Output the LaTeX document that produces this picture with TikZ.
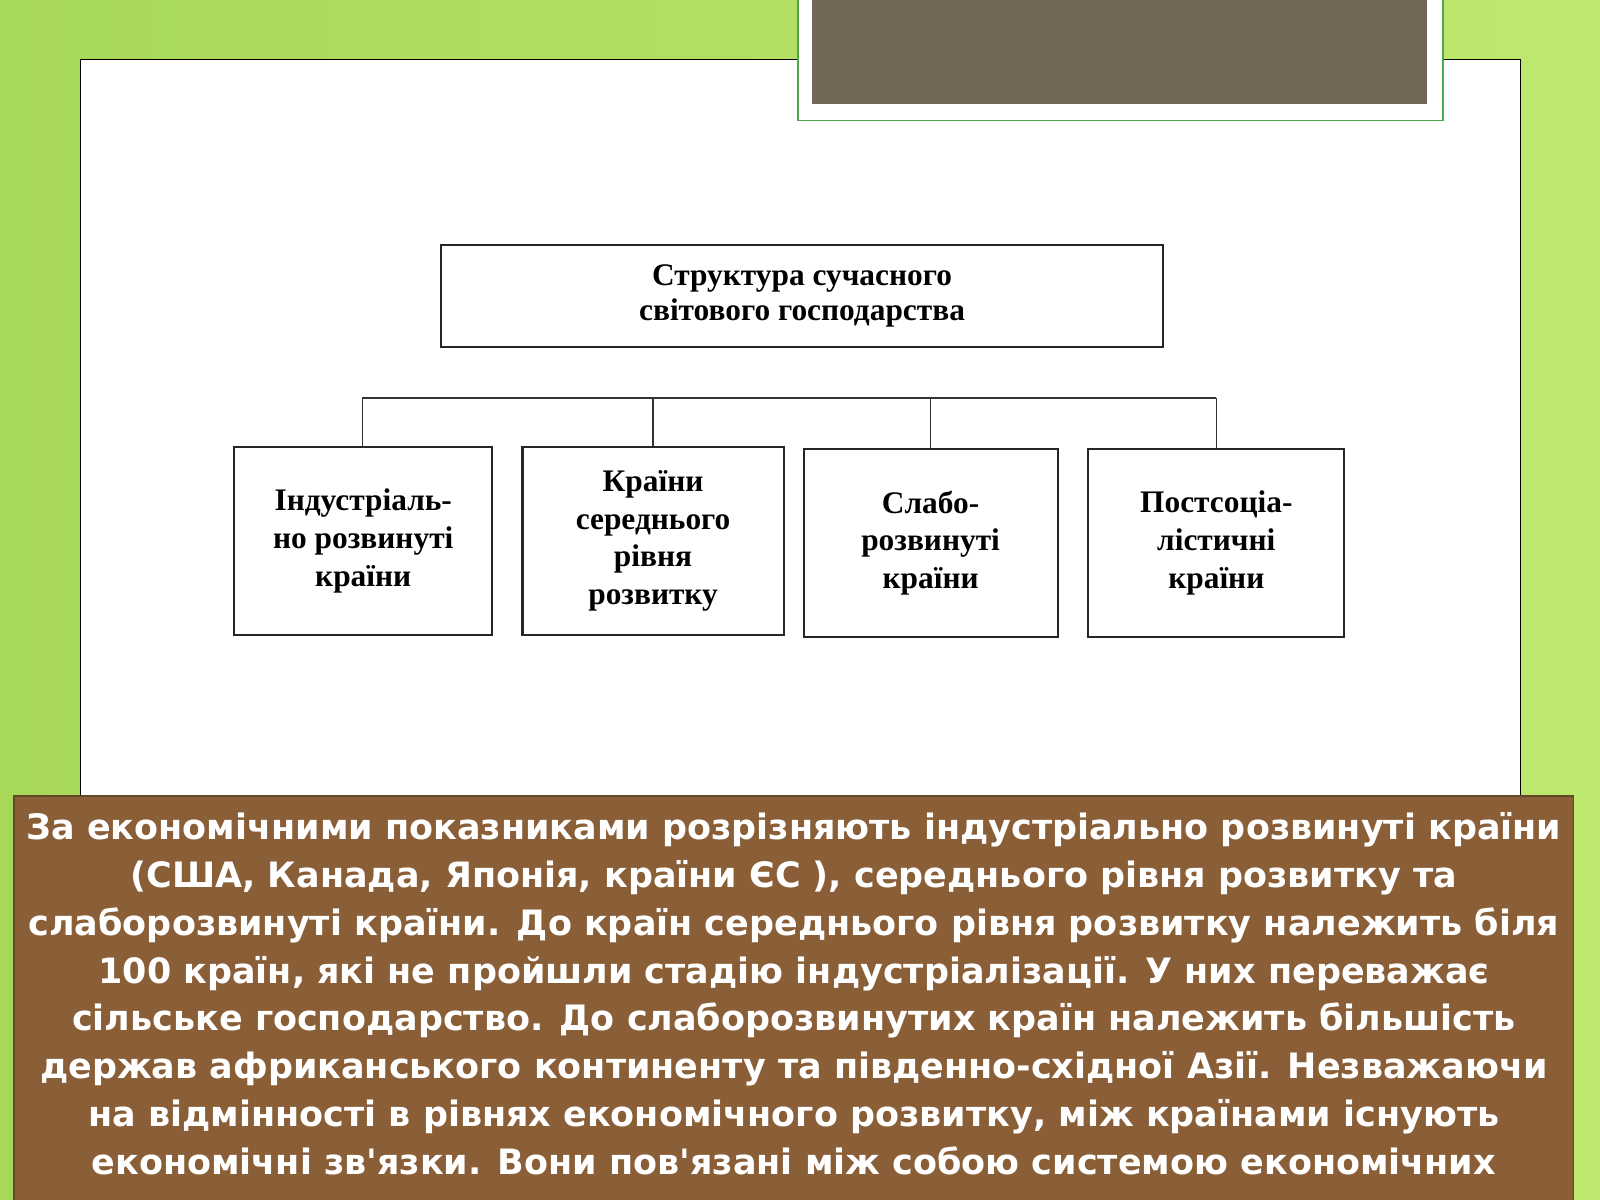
\documentclass[tikz,border=0pt]{standalone}
\usepackage{fontspec}
\setmainfont{Liberation Serif}
\newfontfamily\txtfont{DejaVu Sans}
\definecolor{bggreen}{RGB}{168,216,88}
\definecolor{bggreen2}{RGB}{190,232,110}
\begin{document}
\begin{tikzpicture}[x=0.02cm,y=-0.02cm,
  cbox/.style={draw=black!85,line width=1.2pt,fill=white,align=center,inner sep=0pt,font=\fontsize{17.5}{21}\selectfont\bfseries},
  conn/.style={draw=black!80,line width=0.8pt}]
\useasboundingbox (0,0) rectangle (1568,1176);
\shade[left color=bggreen, right color=bggreen2] (0,0) rectangle (1568,1176);
\draw[black,line width=0.6pt,fill=white] (79,58) rectangle (1490,790);
\draw[green!50!black!70,line width=1pt,fill=white] (782,-2) rectangle (1414,118);
\fill[fill={rgb,255:red,115;green,104;blue,88}] (796,0) rectangle (1398,102);
\node[cbox,minimum width=708*0.02cm,minimum height=100*0.02cm,font=\fontsize{17.5}{20}\selectfont\bfseries] (top) at (786,290) {Структура сучасного\\світового господарства};
\node[cbox,minimum width=253*0.02cm,minimum height=184*0.02cm] (b1) at (356,530) {Індустріаль-\\но розвинуті\\країни};
\node[cbox,minimum width=256*0.02cm,minimum height=184*0.02cm] (b2) at (640,530) {Країни\\середнього\\рівня\\розвитку};
\node[cbox,minimum width=249*0.02cm,minimum height=184*0.02cm] (b3) at (912,532) {Слабо-\\розвинуті\\країни};
\node[cbox,minimum width=251*0.02cm,minimum height=184*0.02cm] (b4) at (1192,532) {Постсоціа-\\лістичні\\країни};
\coordinate (h1) at (355,390); \coordinate (h4) at (1192,390);
\draw[conn] (h1) -- (h4);
\draw[conn] (h1) -- (b1.north -| h1);
\draw[conn] (b2.north |- h1) -- (b2.north);
\draw[conn] (b3.north |- h1) -- (b3.north);
\draw[conn] (h4) -- (b4.north);
\begin{scope}
\clip (0,0) rectangle (1568,1176);
\draw[fill={rgb,255:red,138;green,95;blue,56},draw={rgb,255:red,100;green,70;blue,40},line width=1pt] (14,780) rectangle (1542,1200);
\node[text=white,align=center,font=\txtfont\bfseries\fontsize{19.5}{26.7}\selectfont,anchor=north] (txt) at (778,790) {За економічними показниками розрізняють індустріально розвинуті країни\\(США, Канада, Японія, країни ЄС ), середнього рівня розвитку та\\слаборозвинуті країни. До країн середнього рівня розвитку належить біля\\100 країн, які не пройшли стадію індустріалізації. У них переважає\\сільське господарство. До слаборозвинутих країн належить більшість\\держав африканського континенту та південно-східної Азії. Незважаючи\\на відмінності в рівнях економічного розвитку, між країнами існують\\економічні зв'язки. Вони пов'язані між собою системою економічних};
\end{scope}
\end{tikzpicture}
\end{document}
